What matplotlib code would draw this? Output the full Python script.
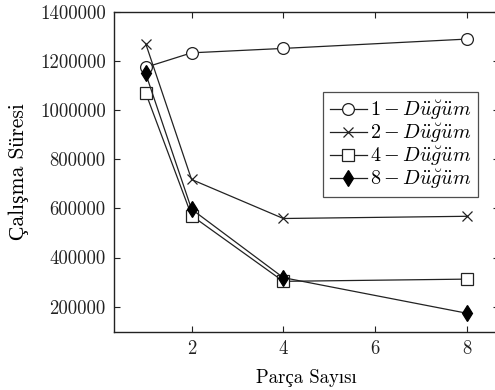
import matplotlib
matplotlib.use("Agg")
import matplotlib.pyplot as plt
from matplotlib.ticker import FixedLocator

plt.rcParams['font.family'] = ['cmr10', 'Liberation Serif']
plt.rcParams['mathtext.fontset'] = 'cm'
plt.rcParams['axes.formatter.use_mathtext'] = True

parca = [1, 2, 4, 8]
dugum_1 = [1175000, 1234000, 1252000, 1290000]
dugum_2 = [1272000, 718000, 559000, 568000]
dugum_4 = [1071000, 571000, 303000, 312000]
dugum_8 = [1150000, 597000, 318000, 173000]

labels = [r"$1 - D\ddot{u}\breve{g}\ddot{u}m$",
          r"$2 - D\ddot{u}\breve{g}\ddot{u}m$",
          r"$4 - D\ddot{u}\breve{g}\ddot{u}m$",
          r"$8 - D\ddot{u}\breve{g}\ddot{u}m$"]

x_ticks = [2, 4, 6, 8]
y_ticks = [200000, 400000, 600000, 800000, 1000000, 1200000, 1400000]

fig = plt.figure(figsize=(4.95, 3.9), dpi=100)
ax = fig.add_axes([0.2303, 0.149, 1.008 - 0.2303, 0.969 - 0.149])

lc = '#222222'
ax.plot(parca, dugum_1, color=lc, lw=0.9, marker='o', ms=8.5,
        mfc='white', mec=lc, mew=0.9, label=labels[0])
ax.plot(parca, dugum_2, color=lc, lw=0.9, marker='x', ms=6.5,
        mec=lc, mew=0.9, label=labels[1])
ax.plot(parca, dugum_4, color=lc, lw=0.9, marker='s', ms=9,
        mfc='white', mec=lc, mew=0.9, label=labels[2])
ax.plot(parca, dugum_8, color=lc, lw=0.9, marker='d', ms=8.5,
        mfc='black', mec='black', mew=0.9, label=labels[3])

ax.set_xlim(0.31, 8.7)
ax.set_ylim(97000, 1400000)
ax.xaxis.set_major_locator(FixedLocator(x_ticks))
ax.yaxis.set_major_locator(FixedLocator(y_ticks))
ax.yaxis.set_major_formatter(plt.FuncFormatter(lambda v, p: f"{int(v)}"))
ax.xaxis.set_major_formatter(plt.FuncFormatter(lambda v, p: f"{int(v)}"))

ax.tick_params(direction='in', length=4.5, width=0.8, top=True, right=True,
               labelsize=13.5, colors='#222222', pad=6)
for s in ax.spines.values():
    s.set_linewidth(1.0)
    s.set_color('#222222')

ax.set_xlabel("Parça Sayısı", fontsize=13.5, labelpad=8)
ax.set_ylabel("Çalışma Süresi", fontsize=15.5, labelpad=8)

leg = ax.legend(loc='upper left', bbox_to_anchor=(0.543, 0.75),
                fontsize=14.5, frameon=True, fancybox=False,
                edgecolor='#222222', handlelength=1.85, handletextpad=0.15,
                labelspacing=0.0, borderpad=0.33, borderaxespad=0)
leg.get_frame().set_linewidth(0.9)

fig.savefig("out.png", dpi=100)
